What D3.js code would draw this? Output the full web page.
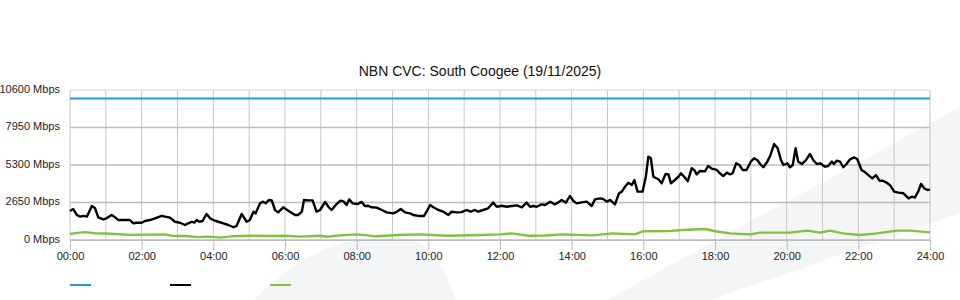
<!DOCTYPE html>
<html><head><meta charset="utf-8">
<script src="https://cdn.jsdelivr.net/npm/d3@7/dist/d3.min.js"></script>
<style>
html,body{margin:0;padding:0;background:#fff;}
svg{display:block;font-family:"Liberation Sans",Arial,sans-serif;}
</style></head>
<body>
<svg id="c" width="960" height="300"></svg>
<script>
const titleText = "NBN CVC: South Coogee (19/11/2025)";
const yTicks = [0, 2650, 5300, 7950, 10600];
const xTickHours = [0,2,4,6,8,10,12,14,16,18,20,22,24];
const xTickLabels = ["00:00","02:00","04:00","06:00","08:00","10:00","12:00","14:00","16:00","18:00","20:00","22:00","24:00"];

const blueHours = [0, 24];
const blueValues = [10000, 10000];

const blackHours = [0.00,0.09,0.19,0.28,0.37,0.47,0.61,0.70,0.79,0.93,1.02,1.16,1.26,1.35,1.49,1.67,1.77,1.86,2.00,2.09,2.23,2.37,2.56,2.65,2.79,2.93,3.07,3.21,3.30,3.40,3.47,3.54,3.61,3.70,3.81,3.91,4.00,4.14,4.28,4.42,4.56,4.65,4.79,4.93,5.02,5.12,5.18,5.30,5.39,5.46,5.55,5.63,5.72,5.81,5.95,6.09,6.28,6.37,6.47,6.53,6.65,6.77,6.88,6.98,7.12,7.21,7.30,7.44,7.55,7.63,7.72,7.79,7.89,8.02,8.14,8.23,8.32,8.42,8.56,8.70,8.84,9.02,9.12,9.23,9.35,9.49,9.58,9.72,9.88,9.95,10.05,10.14,10.28,10.42,10.56,10.65,10.79,10.93,11.07,11.18,11.30,11.39,11.53,11.67,11.81,11.91,12.05,12.19,12.33,12.47,12.61,12.74,12.84,12.93,13.02,13.16,13.26,13.40,13.52,13.63,13.72,13.84,13.95,14.05,14.14,14.28,14.42,14.56,14.65,14.79,14.88,14.98,15.07,15.21,15.32,15.40,15.49,15.58,15.68,15.75,15.84,15.98,16.07,16.14,16.21,16.28,16.42,16.51,16.62,16.70,16.77,16.88,16.98,17.05,17.14,17.24,17.35,17.42,17.49,17.58,17.72,17.81,17.91,18.05,18.14,18.23,18.33,18.42,18.49,18.59,18.68,18.77,18.88,19.00,19.09,19.18,19.26,19.35,19.46,19.55,19.65,19.75,19.84,19.91,20.02,20.09,20.17,20.25,20.32,20.42,20.54,20.65,20.74,20.84,20.93,21.07,21.16,21.26,21.32,21.40,21.49,21.58,21.67,21.77,21.88,21.97,22.09,22.19,22.28,22.39,22.49,22.59,22.68,22.79,22.88,23.00,23.12,23.26,23.40,23.49,23.58,23.67,23.75,23.84,23.93,24.00];
const blackValues = [2050,2190,1770,1650,1700,1650,2400,2240,1600,1460,1530,1770,1600,1410,1410,1410,1180,1220,1220,1340,1410,1530,1700,1650,1580,1290,1220,1060,1180,1290,1220,1410,1290,1340,1840,1530,1410,1290,1180,1060,900,1000,1840,1290,1410,2000,1880,2590,2710,2590,2830,2800,2120,1950,2310,2070,1770,1770,2000,2830,2800,2800,2000,2120,2690,2350,2120,2540,2780,2730,2470,2870,2590,2540,2690,2400,2420,2310,2290,2120,1950,1880,1990,2190,1950,1880,1770,1700,1700,2000,2470,2310,2120,2000,1770,2000,1950,1970,2120,2000,2120,2000,2120,2240,2640,2350,2420,2350,2400,2450,2310,2640,2350,2400,2350,2520,2470,2710,2520,2660,2830,2640,3110,2760,2590,2660,2710,2400,2870,2940,2900,2710,2830,2520,3300,3420,3770,4050,3890,4240,3420,3420,4470,5890,5770,4470,4290,4010,4660,4640,4010,4240,4470,4710,4470,4150,5070,4950,4640,4880,4850,5230,5050,4950,4710,4520,4760,4640,4710,5420,5300,4950,4950,5540,5770,5650,5370,5140,5540,6010,6780,6480,5650,5300,5420,5140,5300,6480,5540,5370,5650,6080,5650,5370,5420,5180,5230,5540,5370,5610,5540,5140,5370,5700,5840,5720,4950,4780,4590,4360,4590,4190,4190,4050,3890,3420,3350,3300,2940,3060,3000,3420,3960,3650,3530,3580];

const greenHours = [0.00,0.22,0.42,0.70,1.12,1.70,2.23,2.65,2.85,3.21,3.57,3.80,3.99,4.19,4.52,5.08,5.58,6.00,6.42,6.98,7.17,7.53,8.01,8.57,9.13,9.77,10.52,11.44,12.00,12.34,12.78,13.26,13.73,14.57,15.13,15.77,16.00,16.70,17.09,17.73,18.00,18.42,18.98,19.26,20.09,20.57,20.93,21.21,21.57,22.05,22.52,23.08,23.44,24.00];
const greenValues = [430,500,560,480,440,360,380,400,300,280,200,240,220,170,260,300,280,300,240,300,230,330,400,260,350,400,300,350,400,470,300,320,400,330,470,400,620,630,710,780,620,470,400,520,520,660,520,660,470,350,470,660,660,540];

const seriesColors = ["#1e9ddb", "#000000", "#80c23c"];

(function () {
const svg = d3.select("#c");
const pl = 70, pr = 930, pt = 90, pb = 240;

// faint background watermark
const bg = svg.append("g").attr("fill", "#f4f5f7");
bg.append("path").attr("d", "M607,300 L960,107 L960,213 L710,300 Z");
bg.append("path").attr("d", "M253,300 C290,265 320,246 362,239 C385,235 405,235 418,242 C432,250 440,262 446,275 L456,300 Z");

const x = d3.scaleLinear().domain([0, 24]).range([pl, pr]);
const y = d3.scaleLinear().domain([0, 10600]).range([pb, pt]);

// vertical gridlines every hour
const g = svg.append("g");
g.selectAll("line.v").data(d3.range(0, 25)).join("line").attr("class", "v")
  .attr("x1", d => x(d)).attr("x2", d => x(d))
  .attr("y1", pt).attr("y2", pb)
  .attr("stroke", "#c8c8c8").attr("stroke-width", 1);
// horizontal gridlines
g.selectAll("line.h").data(yTicks).join("line").attr("class", "h")
  .attr("x1", pl).attr("x2", pr)
  .attr("y1", d => y(d)).attr("y2", d => y(d))
  .attr("stroke", d => d === 10600 ? "#d6d6d6" : "#bdbdbd")
  .attr("stroke-width", d => d === 10600 ? 1 : 1.6);

// y labels
svg.append("g").selectAll("text").data(yTicks).join("text")
  .attr("x", 60).attr("y", d => y(d) + 2.5)
  .attr("text-anchor", "end").attr("font-size", 11).attr("fill", "#222")
  .text(d => d + " Mbps");

// x axis
const xAxis = d3.axisBottom(x).tickValues(xTickHours)
  .tickFormat((d, i) => xTickLabels[i]).tickSize(10).tickSizeOuter(0);
const ax = svg.append("g").attr("transform", `translate(0,${pb})`).call(xAxis);
ax.select(".domain").attr("stroke", "#bdbdbd");
ax.selectAll(".tick line").attr("stroke", "#bdbdbd");
ax.selectAll(".tick text").attr("font-size", 11).attr("fill", "#222")
  .attr("font-family", "Liberation Sans, Arial, sans-serif").attr("y", 12).attr("dy", "0.71em");

// lines
const line = d3.line().x(d => x(d[0])).y(d => y(d[1]));
const series = [
  d3.zip(blueHours, blueValues),
  d3.zip(blackHours, blackValues),
  d3.zip(greenHours, greenValues)
];
svg.append("g").selectAll("path").data(series).join("path")
  .attr("d", line).attr("fill", "none")
  .attr("stroke", (d, i) => seriesColors[i])
  .attr("stroke-width", (d, i) => i === 0 ? 2 : 2.4).attr("stroke-linejoin", "round");

// title
svg.append("text").attr("x", 480).attr("y", 76).attr("text-anchor", "middle")
  .attr("font-size", 14).attr("fill", "#111").text(titleText);

// legend (swatches only)
svg.append("g").selectAll("line").data(seriesColors).join("line")
  .attr("x1", (d, i) => 70 + i * 100).attr("x2", (d, i) => 91 + i * 100)
  .attr("y1", 285).attr("y2", 285)
  .attr("stroke", d => d).attr("stroke-width", 2);
})();
</script>
</body></html>
